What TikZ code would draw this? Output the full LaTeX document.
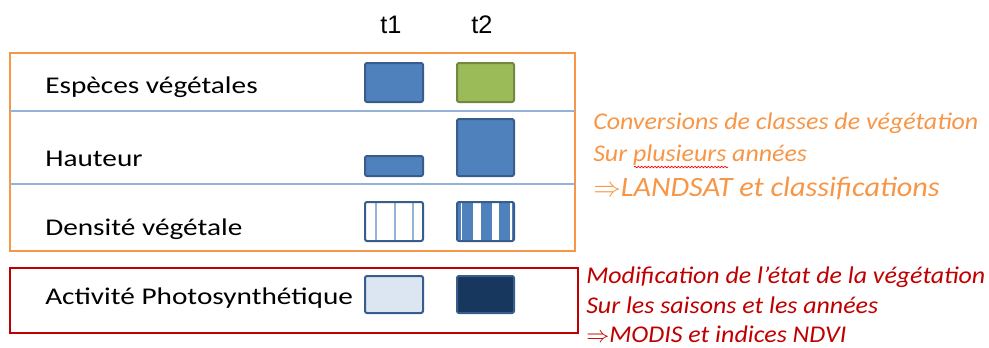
\documentclass[tikz,border=0pt]{standalone}
\usepackage{fontspec}
\setmainfont{Carlito}
\newfontfamily\rowfont{Carlito}[FakeStretch=1.22]
\newfontfamily\notefont{Carlito}[FakeStretch=1.08]
\newfontfamily\arialfont{Liberation Sans}
\usetikzlibrary{positioning,decorations.pathmorphing}
\definecolor{boxorange}{RGB}{247,150,70}
\definecolor{boxred}{RGB}{192,0,0}
\definecolor{sepblue}{RGB}{149,179,215}
\definecolor{fillblue}{RGB}{79,129,189}
\definecolor{edgeblue}{RGB}{56,93,138}
\definecolor{fillgreen}{RGB}{155,187,89}
\definecolor{edgegreen}{RGB}{113,137,63}
\definecolor{filllight}{RGB}{220,230,242}
\definecolor{filldark}{RGB}{23,55,94}

\begin{document}
\begin{tikzpicture}[x=0.75pt, y=-0.75pt,
  rowlabel/.style={anchor=west, inner sep=0pt, font=\rowfont\fontsize{18}{20}\selectfont},
  timelabel/.style={inner sep=0pt, font=\arialfont\fontsize{19}{20}\selectfont},
  note/.style={anchor=west, inner sep=0pt, font=\notefont\itshape\fontsize{18}{20}\selectfont},
  bignote/.style={note, font=\notefont\itshape\fontsize{21}{24}\selectfont},
  cell/.style={draw=edgeblue, line width=1.5pt, rounded corners=1.5pt}]

  \useasboundingbox (0,0) rectangle (989,347);

  % ============================================================
  % FRAMES
  % ============================================================
  \draw[boxorange, line width=1.2pt] (10,53) rectangle (575,251);
  \draw[sepblue, line width=0.9pt] (10,111) -- (575,111);
  \draw[sepblue, line width=0.9pt] (10,184) -- (575,184);
  \draw[boxred, line width=1.2pt] (10,268) rectangle (578,333);

  % ============================================================
  % COLUMN HEADERS
  % ============================================================
  \node[timelabel] (t1) at (391,25) {t1};
  \node[timelabel] (t2) at (482,25) {t2};

  % ============================================================
  % ROWS
  % ============================================================
  \node[rowlabel] (especes)  at (45,87)  {Espèces végétales};
  \node[rowlabel] (hauteur)  at (45,159) {Hauteur};
  \node[rowlabel] (densite)  at (45,229) {Densité végétale};
  \node[rowlabel] (activite) at (45,298) {Activité Photosynthétique};

  % Especes
  \draw[cell, fill=fillblue] (365,63) rectangle (423,102);
  \draw[cell, draw=edgegreen, fill=fillgreen] (457,63) rectangle (514,102);

  % Hauteur
  \draw[cell, fill=fillblue] (365,156) rectangle (423,176);
  \draw[cell, fill=fillblue] (457,119) rectangle (514,176);

  % Densite
  \fill[white] (365,202) rectangle (423,241);
  \foreach \xs in {376,395,413}
    \draw[sepblue, line width=1pt] (\xs,202) -- (\xs,241);
  \draw[cell] (365,202) rectangle (423,241);

  \fill[fillblue] (457,202) rectangle (514,241);
  \foreach \xa/\xb in {460.5/462, 473/481, 492/499, 510/511.5}
    \fill[white] (\xa,202) rectangle (\xb,241);
  \draw[cell] (457,202) rectangle (514,241);

  % Activite
  \draw[cell, fill=filllight] (365,276) rectangle (423,313);
  \draw[cell, fill=filldark] (457,276) rectangle (514,313);

  % ============================================================
  % NOTES
  % ============================================================
  \node[note, boxorange] (conv1) at (593,123) {Conversions de classes de végétation};
  \node[note, boxorange] (conv2) at (593,155) {Sur plusieurs années};
  \node[bignote, boxorange] (conv3) at (593,188) {$\Rightarrow$LANDSAT et classifications};
  \draw[red, line width=0.5pt, decorate,
        decoration={snake, amplitude=0.6pt, segment length=2.5pt}]
    (634,167) -- (728,167);

  \node[note, boxred] (modif1) at (586,277) {Modification de l’état de la végétation};
  \node[note, boxred] (modif2) at (586,305) {Sur les saisons et les années};
  \node[note, boxred] (modif3) at (586,334) {$\Rightarrow$MODIS et indices NDVI};

\end{tikzpicture}
\end{document}
